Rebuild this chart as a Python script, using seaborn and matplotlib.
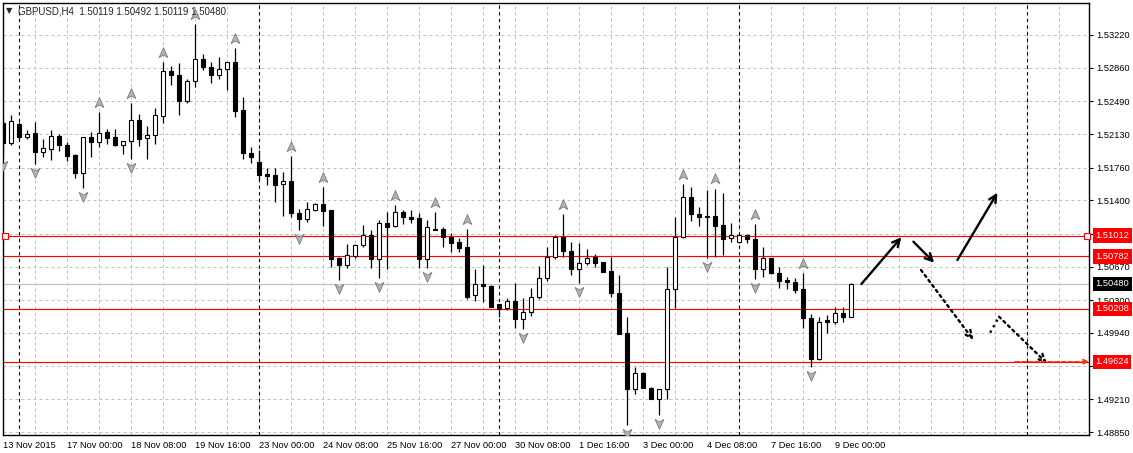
import numpy as np
import pandas as pd
import matplotlib
matplotlib.use("Agg")
import matplotlib.pyplot as plt
import seaborn as sns
from matplotlib.path import Path
from matplotlib import transforms

# GBPUSD H4 bars, bar 0 = 16 Nov 2015 00:00 (8 px per bar in the terminal)
first_bar = -2
opens = [1.52248, 1.52035, 1.52240, 1.52094, 1.52138, 1.51927, 1.51960, 1.52106, 1.52006, 1.51901,
         1.51704, 1.52094, 1.52037, 1.52152, 1.52094, 1.52004, 1.52050, 1.52281, 1.52081, 1.52114,
         1.52325, 1.52820, 1.52780, 1.52497, 1.52710, 1.52953, 1.52868, 1.52776, 1.52842, 1.52923,
         1.52391, 1.51918, 1.51822, 1.51685, 1.51679, 1.51577, 1.51613, 1.51264, 1.51195, 1.51294,
         1.51360, 1.51294, 1.50769, 1.50688, 1.50791, 1.50905, 1.51015, 1.50758, 1.51147, 1.51121,
         1.51275, 1.51213, 1.51202, 1.50758, 1.51085, 1.51085, 1.51000, 1.50942, 1.50890, 1.50358,
         1.50479, 1.50457, 1.50259, 1.50212, 1.50292, 1.50091, 1.50174, 1.50340, 1.50542, 1.50780,
         1.50993, 1.50843, 1.50641, 1.50714, 1.50780, 1.50721, 1.50622, 1.50377, 1.49937, 1.49320,
         1.49496, 1.49338, 1.49210, 1.49320, 1.50421, 1.50993, 1.51434, 1.51250, 1.51224, 1.51228,
         1.51129, 1.50982, 1.50945, 1.51015, 1.50975, 1.50641, 1.50762, 1.50597, 1.50523, 1.50498,
         1.50421, 1.50102, 1.49650, 1.50083, 1.50056, 1.50157, 1.50119]
highs = [1.52306, 1.52339, 1.52262, 1.52169, 1.52260, 1.52073, 1.52174, 1.52128, 1.52046, 1.51913,
         1.52101, 1.52152, 1.52376, 1.52180, 1.52185, 1.52048, 1.52475, 1.52350, 1.52218, 1.52414,
         1.52923, 1.52879, 1.52909, 1.52732, 1.53341, 1.53011, 1.52923, 1.52981, 1.52923, 1.53077,
         1.52534, 1.51987, 1.51954, 1.51753, 1.51753, 1.51715, 1.51888, 1.51305, 1.51385, 1.51368,
         1.51544, 1.51294, 1.50780, 1.50916, 1.50916, 1.51129, 1.51074, 1.51184, 1.51275, 1.51349,
         1.51294, 1.51294, 1.51258, 1.51184, 1.51272, 1.51110, 1.51037, 1.50989, 1.51081, 1.50641,
         1.50688, 1.50468, 1.50259, 1.50322, 1.50487, 1.50322, 1.50432, 1.50677, 1.50883, 1.51013,
         1.51250, 1.50942, 1.50934, 1.50861, 1.50806, 1.50721, 1.50780, 1.50578, 1.50119, 1.49562,
         1.49514, 1.49349, 1.49327, 1.50670, 1.51213, 1.51580, 1.51550, 1.51330, 1.51515, 1.51530,
         1.51484, 1.51154, 1.51030, 1.51030, 1.51140, 1.50890, 1.50762, 1.50663, 1.50560, 1.50542,
         1.50597, 1.50146, 1.50119, 1.50138, 1.50229, 1.50229, 1.50492]
lows = [1.51877, 1.52009, 1.52064, 1.52070, 1.51797, 1.51880, 1.51849, 1.51945, 1.51835, 1.51651,
        1.51533, 1.51880, 1.51987, 1.52015, 1.51998, 1.51907, 1.51855, 1.51998, 1.51858, 1.52020,
        1.52255, 1.52673, 1.52336, 1.52475, 1.52644, 1.52835, 1.52688, 1.52739, 1.52615, 1.52321,
        1.51852, 1.51808, 1.51624, 1.51569, 1.51385, 1.51228, 1.51213, 1.51074, 1.51165, 1.51286,
        1.51118, 1.50670, 1.50523, 1.50659, 1.50769, 1.50890, 1.50659, 1.50549, 1.50648, 1.51110,
        1.51136, 1.51154, 1.50659, 1.50652, 1.51069, 1.50890, 1.50835, 1.50835, 1.50311, 1.50295,
        1.50284, 1.50229, 1.50119, 1.50193, 1.49992, 1.49981, 1.50127, 1.50311, 1.50512, 1.50754,
        1.50773, 1.50578, 1.50487, 1.50688, 1.50670, 1.50608, 1.50333, 1.49929, 1.48927, 1.49265,
        1.49331, 1.49210, 1.49037, 1.49210, 1.50218, 1.50982, 1.51176, 1.51118, 1.50769, 1.50780,
        1.50798, 1.50945, 1.50927, 1.50927, 1.50531, 1.50560, 1.50589, 1.50432, 1.50421, 1.50377,
        1.49998, 1.49562, 1.49643, 1.49937, 1.50039, 1.50064, 1.50119]
closes = [1.52035, 1.52273, 1.52092, 1.52127, 1.51927, 1.51974, 1.52105, 1.52004, 1.51891, 1.51704,
          1.52094, 1.52037, 1.52138, 1.52090, 1.52004, 1.52048, 1.52281, 1.52079, 1.52114, 1.52336,
          1.52820, 1.52776, 1.52497, 1.52710, 1.52953, 1.52865, 1.52776, 1.52842, 1.52923, 1.52387,
          1.51918, 1.51880, 1.51676, 1.51663, 1.51569, 1.51613, 1.51258, 1.51195, 1.51302, 1.51360,
          1.51286, 1.50758, 1.50688, 1.50795, 1.50905, 1.51015, 1.50758, 1.51147, 1.51110, 1.51268,
          1.51213, 1.51198, 1.50758, 1.51110, 1.51074, 1.50993, 1.50934, 1.50879, 1.50340, 1.50479,
          1.50461, 1.50229, 1.50207, 1.50292, 1.50091, 1.50174, 1.50333, 1.50542, 1.50780, 1.50993,
          1.50837, 1.50641, 1.50714, 1.50769, 1.50714, 1.50615, 1.50377, 1.49929, 1.49320, 1.49496,
          1.49338, 1.49210, 1.49327, 1.50421, 1.50993, 1.51434, 1.51246, 1.51220, 1.51217, 1.51121,
          1.50978, 1.51015, 1.51015, 1.50971, 1.50641, 1.50762, 1.50597, 1.50516, 1.50498, 1.50413,
          1.50102, 1.49650, 1.50064, 1.50058, 1.50157, 1.50113, 1.50480]

up_fractals = [10, 14, 18, 22, 27, 34, 38, 47, 52, 56, 68, 83, 87, 92, 98]
down_fractals = [-2, 2, 8, 14, 35, 40, 45, 51, 63, 70, 76, 80, 86, 92, 99]

date_ticks = [-2, 6, 14, 22, 30, 38, 46, 54, 62, 70, 78, 86, 94, 102]
date_labels = ["13 Nov 2015", "17 Nov 00:00", "18 Nov 08:00", "19 Nov 16:00", "23 Nov 00:00",
               "24 Nov 08:00", "25 Nov 16:00", "27 Nov 00:00", "30 Nov 08:00", "1 Dec 16:00",
               "3 Dec 00:00", "4 Dec 08:00", "7 Dec 16:00", "9 Dec 00:00"]
price_ticks = [1.53220, 1.52860, 1.52490, 1.52130, 1.51760, 1.51400, 1.51030,
               1.50670, 1.50300, 1.49940, 1.49580, 1.49210, 1.48850]
# scale labels that sit under a price tag in the terminal
hidden_ticks = [1.51030, 1.49580]
week_separators = [0, 30, 60, 90, 126]

red_levels = [1.51012, 1.50782, 1.50208, 1.49624]
bid_price = 1.50480

# hand drawn forecast arrows: (bar, price) start -> end
solid_arrows = [((105.3, 1.50479), (110.3, 1.50993)),
                ((111.8, 1.50945), (114.4, 1.50714)),
                ((117.3, 1.50743), (122.3, 1.51484))]
dotted_arrows = [((112.75, 1.50633), (119.3, 1.49863)),
                 ((122.5, 1.50119), (128.5, 1.49606))]
dotted_hook = ([121.4, 122.5], [1.49943, 1.50119])
target_ray_start = 124.5

df = pd.DataFrame({"open": opens, "high": highs, "low": lows, "close": closes})
df["bar"] = np.arange(first_bar, first_bar + len(df))
df["bull"] = df["close"] >= df["open"]

sns.set_style("white")
plt.rcParams["font.family"] = ["Liberation Sans", "DejaVu Sans"]

fig = plt.figure(figsize=(11.33, 4.53), dpi=100)
ax = fig.add_axes([2.7 / 1133, 18 / 453, 1086.3 / 1133, 432 / 453])
ax.set_xlim(-2.04, 133.75)
ax.set_ylim(1.48817, 1.53572)

grid_kw = dict(color="#c0c0c0", lw=0.72, linestyle=(0, (3, 3)), zorder=1)
for p in price_ticks:
    ax.axhline(p, **grid_kw)
for b in range(2, 134, 4):
    ax.axvline(b, **grid_kw)
for b in week_separators:
    ax.axvline(b, color="black", lw=0.8, linestyle=(0, (3, 3)), zorder=1.5)

for p in red_levels:
    ax.axhline(p, color="#ff0000", lw=0.85, zorder=2)
ax.axhline(bid_price, color="#c0c0c0", lw=0.85, zorder=2)
ax.plot([-1.75, 133.5], [red_levels[0]] * 2, ls="none", marker="s", ms=4,
        mfc="white", mec="#ff0000", mew=0.8, zorder=6, clip_on=False)

# candles
ax.vlines(df["bar"], df["low"], df["high"], color="black", lw=0.9, zorder=3)
ax.bar(df["bar"], df["close"] - df["open"], bottom=df["open"], width=0.58,
       color=np.where(df["bull"], "white", "black"), edgecolor="black", lw=0.8, zorder=4)

# Bill Williams fractals
up_marker = Path([(0, 1), (0.75, -0.7), (0, -0.25), (-0.75, -0.7), (0, 1)],
                 [Path.MOVETO, Path.LINETO, Path.LINETO, Path.LINETO, Path.CLOSEPOLY])
down_marker = Path([(0, -1), (0.75, 0.7), (0, 0.25), (-0.75, 0.7), (0, -1)],
                   [Path.MOVETO, Path.LINETO, Path.LINETO, Path.LINETO, Path.CLOSEPOLY])
ups = df.set_index("bar").loc[up_fractals]
downs = df.set_index("bar").loc[down_fractals]
sns.scatterplot(x=ups.index, y=ups["high"] + 0.00100, marker=up_marker, s=70,
                color="#b4b4b4", edgecolor="#7a7a7a", linewidth=0.6, ax=ax, zorder=5, legend=False)
sns.scatterplot(x=downs.index, y=downs["low"] - 0.00088, marker=down_marker, s=70,
                color="#b4b4b4", edgecolor="#7a7a7a", linewidth=0.6, ax=ax, zorder=5, legend=False)

for start, end in solid_arrows:
    ax.annotate("", xy=end, xytext=start, zorder=6,
                arrowprops=dict(arrowstyle="->", color="black", lw=1.7, mutation_scale=13,
                                shrinkA=0, shrinkB=0))
ax.plot(*dotted_hook, color="black", lw=1.7, ls=":", zorder=6)
for start, end in dotted_arrows:
    ax.annotate("", xy=end, xytext=start, zorder=6,
                arrowprops=dict(arrowstyle="->", color="black", lw=1.7, ls=":",
                                mutation_scale=13, shrinkA=0, shrinkB=0))
ax.annotate("", xy=(133.75, red_levels[-1]), xytext=(target_ray_start, red_levels[-1]), zorder=6,
            arrowprops=dict(arrowstyle="-|>", color="#ff3300", lw=0.9, ls="--",
                            mutation_scale=8, shrinkA=0, shrinkB=0))

# axes, ticks
for s in ax.spines.values():
    s.set_color("black")
    s.set_linewidth(1)
ax.yaxis.tick_right()
ax.set_yticks(price_ticks)
ax.set_yticklabels(["" if p in hidden_ticks else f"{p:.5f}" for p in price_ticks])
ax.set_xticks(date_ticks)
ax.set_xticklabels(date_labels, ha="left")
ax.tick_params(axis="both", direction="out", length=3, width=0.8, labelsize=6.7,
               colors="black", pad=2)
ax.tick_params(axis="x", pad=1.5)
ax.set_xlabel("")
ax.set_ylabel("")

# price tags on the scale
tag = transforms.blended_transform_factory(ax.transAxes, ax.transData)
for p in red_levels:
    ax.text(1.0058, p, f"{p:.5f}", transform=tag, fontsize=6.7, color="white", va="center",
            ha="left", zorder=10, clip_on=False,
            bbox=dict(boxstyle="square,pad=0.28", fc="#ff0000", ec="none"))
ax.text(1.0058, bid_price, f"{bid_price:.5f}", transform=tag, fontsize=6.7, color="white",
        va="center", ha="left", zorder=10, clip_on=False,
        bbox=dict(boxstyle="square,pad=0.28", fc="black", ec="none"))

fig.text(6 / 1133, 1 - 11 / 453, "\u25bc", fontsize=6, va="center", ha="left",
         family=["DejaVu Sans"])
fig.text(18 / 1133, 1 - 11 / 453, "GBPUSD,H4  1.50119 1.50492 1.50119 1.50480",
         fontsize=7, va="center", ha="left")

fig.savefig("out.png", dpi=100, facecolor="white")
